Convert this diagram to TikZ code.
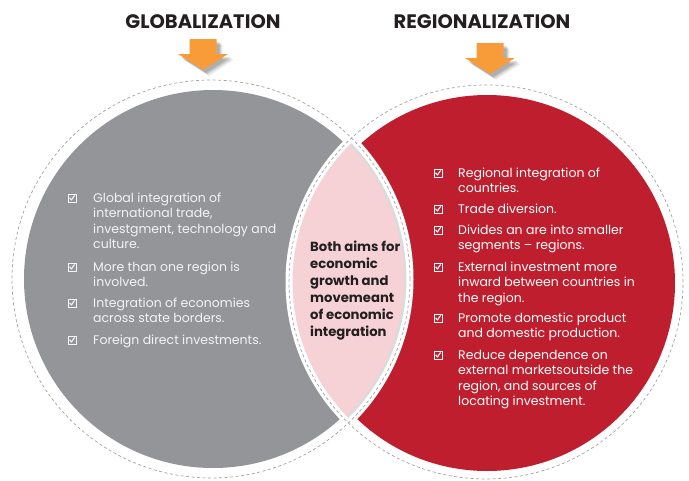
\documentclass[tikz,border=0pt]{standalone}
\usepackage{fontspec}
\setmainfont{Poppins}

\definecolor{discgray}{HTML}{939598}
\definecolor{discred}{HTML}{BE1E2D}
\definecolor{lenspink}{HTML}{F6D1D5}
\definecolor{arroworange}{HTML}{F79C38}
\definecolor{titleink}{HTML}{231F20}
\definecolor{dashgray}{HTML}{A3A3A3}
\definecolor{softwhite}{HTML}{F3F3F3}

\tikzset{
  title/.style={font=\bfseries\fontsize{19.5}{22}\selectfont, text=titleink, inner sep=0pt},
  bodytext/.style={anchor=base west, align=left, inner sep=0pt,
    font=\fontsize{12.5}{15.6}\selectfont},
  graytext/.style={bodytext, text=softwhite},
  redtext/.style={bodytext, text=white},
  centertext/.style={anchor=base west, align=left, inner sep=0pt, text=titleink,
    font=\bfseries\fontsize{13.2}{17}\selectfont},
  ring/.style={draw=dashgray, dash pattern=on 3pt off 2.5pt, line width=0.7pt},
  checkbox/.pic={
    \draw[line width=0.8pt] (-4,-4) rectangle (4,4);
    \draw[line width=1.1pt, line join=round] (-2.4,-0.2) -- (-0.6,2) -- (2.6,-2.6);
  },
  downarrow/.pic={
    \path[pic actions] (-13.5,0) -- (13.5,0) -- (13.5,15) -- (25,15) -- (0,31)
      -- (-25,15) -- (-13.5,15) -- cycle;
  }
}

\begin{document}
\begin{tikzpicture}[x=1pt, y=-1pt]
\useasboundingbox (0,0) rectangle (689,480);

% centres of the two sets
\coordinate (gc) at (213,279);   % grey disc
\coordinate (gd) at (211,279);   % grey dashed ring
\coordinate (rc) at (487,283);   % red disc
\coordinate (rd) at (486,282);   % red dashed ring

% discs
\fill[discgray] (gc) circle[radius=189pt];
\fill[discred] (rc) circle[radius=188pt];

% overlap lens
\begin{scope}
  \clip (gd) circle[radius=199pt];
  \clip (rd) circle[radius=197pt];
  \fill[lenspink] (rd) circle[radius=197pt];
  \draw[black!14, line width=12pt] (gd) circle[radius=199pt];
\end{scope}
\begin{scope}
  \clip (gd) circle[radius=199pt];
  \draw[white, line width=7pt] (rd) circle[radius=197pt];
\end{scope}
\begin{scope}
  \clip (rd) circle[radius=197pt];
  \draw[white, line width=7pt] (gd) circle[radius=199pt];
\end{scope}

% dashed rings
\draw[ring] (gd) circle[radius=199pt];
\draw[ring] (rd) circle[radius=197pt];

% titles
\node[title] (globtitle) at (203,22) {GLOBALIZATION};
\node[title] (regtitle) at (482,22) {REGIONALIZATION};

% arrows with soft shadow
\foreach \d/\o in {6/0.06,5/0.08,4/0.1,3/0.12} {
  \pic[fill=black, opacity=\o] at (203+\d,39+\d) {downarrow};
  \pic[fill=black, opacity=\o] at (490+\d,43+\d) {downarrow};
}
\pic[fill=arroworange] (globarrow) at (203,39) {downarrow};
\pic[fill=arroworange] (regarrow) at (490,43) {downarrow};

% globalization items (placed by the baseline of their last line)
\node[graytext] (g1) at (93,248.8) {Global integration of\\international trade,\\investgment, technology and\\culture.};
\node[graytext] (g2) at (93,286.6) {More than one region is\\involved.};
\node[graytext] (g3) at (93,322.6) {Integration of economies\\across state borders.};
\node[graytext] (g4) at (93,344) {Foreign direct investments.};
\foreach \y in {198,267,303,340}
  \pic[softwhite] at (72,\y) {checkbox};

% regionalization items
\node[redtext] (r1) at (458,192.6) {Regional integration of\\countries.};
\node[redtext] (r2) at (458,213) {Trade diversion.};
\node[redtext] (r3) at (458,249.6) {Divides an are into smaller\\segments -- regions.};
\node[redtext] (r4) at (458,302.2) {External investment more\\inward between countries in\\the region.};
\node[redtext] (r5) at (458,337.6) {Promote domestic product\\and domestic production.};
\node[redtext] (r6) at (458,405.8) {Reduce dependence on\\external marketsoutside the\\region, and sources of\\locating investment.};
\foreach \y in {173,209,230,267,318,355}
  \pic[white] at (438,\y) {checkbox};

% shared aims
\node[centertext] (both) at (310,336) {Both aims for\\economic\\growth and\\movemeant\\of economic\\integration};

\end{tikzpicture}
\end{document}
